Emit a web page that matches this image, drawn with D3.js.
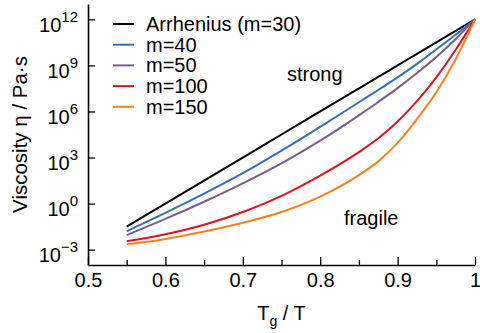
<!DOCTYPE html>
<html>
<head>
<meta charset="utf-8">
<script src="https://cdn.jsdelivr.net/npm/d3@7"></script>
<style>
  body { margin: 0; background: #fff; }
  svg { display: block; font-family: "Liberation Sans", Arial, sans-serif; }
</style>
</head>
<body>
<script>
// Angell plot: log viscosity vs Tg/T

var tgOverT = [0.55, 0.6, 0.65, 0.7, 0.75, 0.8, 0.85, 0.875, 0.9, 0.925, 0.95, 0.975, 1];

var arrhenius = [-1.5, 0, 1.5, 3, 4.5, 6, 7.5, 8.25, 9, 9.75, 10.5, 11.25, 12];
var m40  = [-1.8, -0.6, 0.65, 1.98, 3.45, 5.0, 6.6, 7.4, 8.22, 9.1, 10.05, 11.0, 12];
var m50  = [-2.05, -1.0, 0.12, 1.32, 2.62, 4.1, 5.75, 6.62, 7.52, 8.5, 9.55, 10.72, 12];
var m100 = [-2.46, -2.0, -1.38, -0.55, 0.5, 1.82, 3.35, 4.25, 5.35, 6.67, 8.22, 10.02, 12];
var m150 = [-2.65, -2.3, -1.82, -1.25, -0.55, 0.45, 1.85, 2.75, 3.95, 5.5, 7.25, 9.4, 12];

var seriesNames = ["Arrhenius (m=30)", "m=40", "m=50", "m=100", "m=150"];
var seriesColors = ["#000000", "#3370b5", "#7b5b90", "#e0141e", "#f7821c"];
var seriesValues = [arrhenius, m40, m50, m100, m150];

var xTicks = [0.5, 0.6, 0.7, 0.8, 0.9, 1];
var xMinorTicks = [0.55, 0.65, 0.75, 0.85, 0.95];
var yTicks = [-3, 0, 3, 6, 9, 12];

var width = 480, height = 333;
var plot = {left: 88, right: 475, top: 4, bottom: 265};

var svg = d3.select("body").append("svg")
    .attr("width", width)
    .attr("height", height);

var x = d3.scaleLinear().domain([0.5, 1]).range([plot.left, plot.right]);
var y = d3.scaleLinear().domain([-4, 13]).range([plot.bottom, plot.top]);

// x axis, ticks pointing inward
var xAxis = svg.append("g")
    .attr("transform", "translate(0," + plot.bottom + ")")
    .call(d3.axisBottom(x).tickValues(xTicks).tickSize(-8).tickSizeOuter(0)
      .tickPadding(10).tickFormat(function(d) { return d === 1 ? "1" : d3.format(".1f")(d); }));

svg.append("g")
    .attr("transform", "translate(0," + plot.bottom + ")")
    .call(d3.axisBottom(x).tickValues(xMinorTicks).tickSize(-5).tickFormat(""))
    .select(".domain").remove();

var yAxis = svg.append("g")
    .attr("transform", "translate(" + plot.left + ",0)")
    .call(d3.axisLeft(y).tickValues(yTicks).tickSize(-7).tickSizeOuter(0).tickPadding(10).tickFormat(""));

svg.selectAll(".domain").attr("stroke-width", 1.6).attr("stroke", "#000");
svg.selectAll(".tick line").attr("stroke-width", 1.3).attr("stroke", "#000");

xAxis.selectAll("text")
    .attr("font-size", 20)
    .attr("fill", "#000")
    .attr("font-family", "Liberation Sans, Arial, sans-serif")
    .attr("dy", "0.6em");

// y tick labels as 10^n
yAxis.selectAll(".tick").each(function(d) {
  var t = d3.select(this).select("text")
      .attr("x", -10)
      .attr("dy", null)
      .attr("y", 12)
      .attr("text-anchor", "end")
      .attr("font-size", 20)
      .attr("fill", "#000")
      .attr("font-family", "Liberation Sans, Arial, sans-serif");
  t.text(null);
  t.append("tspan").text("10");
  t.append("tspan").attr("dy", -10).attr("font-size", 15)
      .text(d < 0 ? "\u2212" + Math.abs(d) : String(d));
});

// curves
var line = d3.line()
    .x(function(d, i) { return x(tgOverT[i]); })
    .y(function(d) { return y(d); })
    .curve(d3.curveMonotoneX);

svg.selectAll("path.curve")
    .data(seriesValues)
    .enter().append("path")
    .attr("class", "curve")
    .attr("fill", "none")
    .attr("stroke", function(d, i) { return seriesColors[i]; })
    .attr("stroke-width", 2)
    .attr("d", line);

// legend
var legend = svg.append("g");
seriesNames.forEach(function(name, i) {
  var cy = 24 + i * 20.7;
  legend.append("line")
      .attr("x1", 113).attr("x2", 134)
      .attr("y1", cy).attr("y2", cy)
      .attr("stroke", seriesColors[i])
      .attr("stroke-width", 2);
  legend.append("text")
      .attr("x", 146).attr("y", cy + 7)
      .attr("font-size", 20)
      .text(name);
});

// annotations
svg.append("text").attr("x", 287).attr("y", 81).attr("font-size", 20).text("strong");
svg.append("text").attr("x", 344).attr("y", 225).attr("font-size", 20).text("fragile");

// axis labels
var xl = svg.append("text")
    .attr("x", (plot.left + plot.right) / 2)
    .attr("y", 320)
    .attr("text-anchor", "middle")
    .attr("font-size", 20);
xl.append("tspan").text("T");
xl.append("tspan").attr("font-size", 14).attr("dy", 6).text("g");
xl.append("tspan").attr("dy", -6).text(" / T");

svg.append("text")
    .attr("transform", "translate(27," + ((plot.top + plot.bottom) / 2) + ") rotate(-90)")
    .attr("text-anchor", "middle")
    .attr("font-size", 20.5)
    .text("Viscosity \u03b7 / Pa\u00b7s");
</script>
</body>
</html>
